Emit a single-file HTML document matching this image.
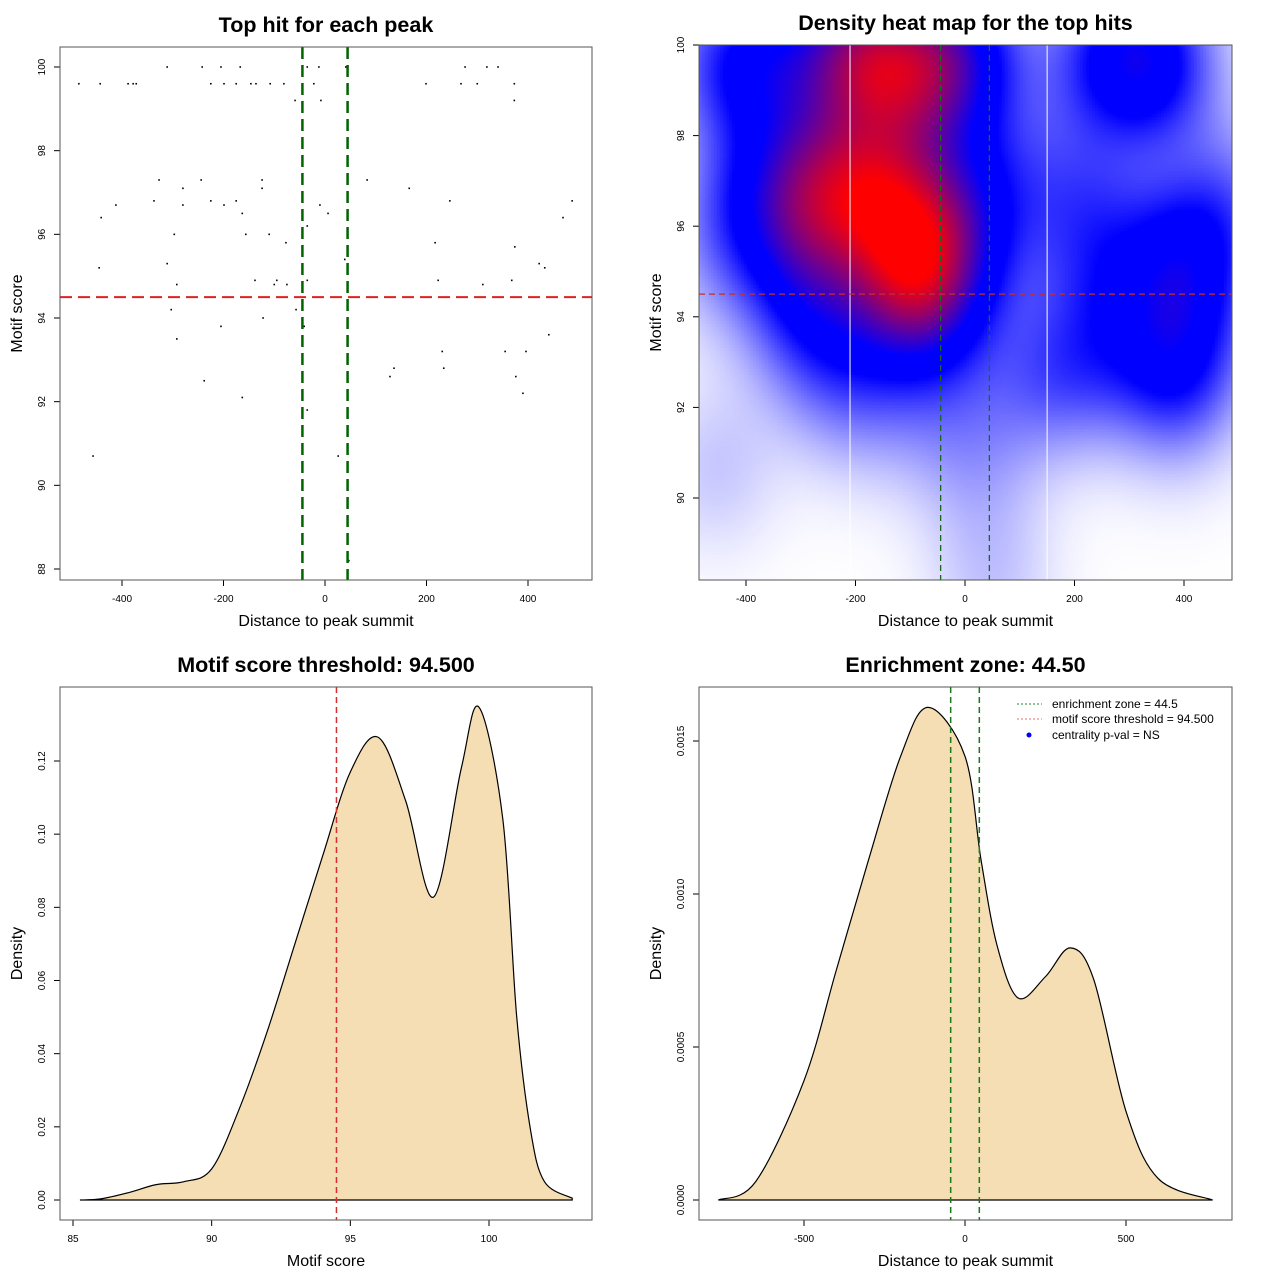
<!DOCTYPE html>
<html><head><meta charset="utf-8"><style>
body{margin:0;background:#fff;width:1280px;height:1280px;overflow:hidden;font-family:"Liberation Sans",sans-serif}
#wrap{position:relative;width:1280px;height:1280px}
svg{position:absolute;left:0;top:0}
canvas{position:absolute;left:699px;top:45px}
</style></head><body>
<div id="wrap">
<canvas id="heat" width="533" height="535"></canvas>
<svg id="svg" width="1280" height="1280" xmlns="http://www.w3.org/2000/svg"></svg>
</div>
<script>
// ---- data ----
const scatterX=[-485,-443,-388,-378,-372,-225,-199,-175,-146,-136,-108,-81,-22,199,268,300,373,
-311,-242,-205,-167,-35,-12,41,276,319,341,-59,-8,373,
-327,-244,-124,83,-280,-124,166,-337,-225,-175,246,487,-412,-280,-199,-10,-163,6,-441,469,
-297,-156,-110,-77,217,374,-35,39,-311,422,-445,433,-138,-95,-35,223,368,-292,-100,-75,311,
-303,-57,-122,-205,-41,-292,441,231,355,396,234,136,128,376,-238,390,-163,-35,-457,26,47];
const scatterY=[99.6,99.6,99.6,99.6,99.6,99.6,99.6,99.6,99.6,99.6,99.6,99.6,99.6,99.6,99.6,99.6,99.6,
100,100,100,100,100,100,100,100,100,100,99.2,99.2,99.2,
97.3,97.3,97.3,97.3,97.1,97.1,97.1,96.8,96.8,96.8,96.8,96.8,96.7,96.7,96.7,96.7,96.5,96.5,96.4,96.4,
96,96,96,95.8,95.8,95.7,96.2,95.4,95.3,95.3,95.2,95.2,94.9,94.9,94.9,94.9,94.9,94.8,94.8,94.8,94.8,
94.2,94.2,94,93.8,93.8,93.5,93.6,93.2,93.2,93.2,92.8,92.8,92.6,92.6,92.5,92.2,92.1,91.8,90.7,90.7,88.2];
const scoreX=[85.25,86,87,88,89,90,91,92,93,94,95,96,97,98,99,99.64,100.5,101,101.5,102,103];
const scoreD=[0,0.0003,0.002,0.0042,0.005,0.0085,0.025,0.046,0.07,0.094,0.117,0.1265,0.109,0.0828,0.118,0.1347,0.104,0.05,0.019,0.005,0.0005];
const distX=[-766,-650,-500,-400,-300,-200,-115,0,50,100,165,250,327,400,500,600,769];
const distD=[0,0.00006,0.00039,0.00075,0.00111,0.00145,0.00161,0.00145,0.00111,0.00083,0.00066,0.00073,0.000824,0.00072,0.00029,0.00007,0];
const scoreThreshold=94.5, zone=44.5;
const ticks1X=[-400,-200,0,200,400], ticks1Y=[88,90,92,94,96,98,100];
const ticks2Y=[90,92,94,96,98,100];
const ticks3X=[85,90,95,100], ticks3Y=[0,0.02,0.04,0.06,0.08,0.10,0.12], ticks3YL=["0.00","0.02","0.04","0.06","0.08","0.10","0.12"];
const ticks4X=[-500,0,500], ticks4Y=[0,0.0005,0.001,0.0015], ticks4YL=["0.0000","0.0005","0.0010","0.0015"];

const NS="http://www.w3.org/2000/svg", svg=document.getElementById('svg');
function el(tag,attrs,parent,name,text){const e=document.createElementNS(NS,tag);for(const k in attrs)e.setAttribute(k,attrs[k]);


if(text!==undefined)e.textContent=text;(parent||svg).appendChild(e);return e;}
function lin(d0,d1,p0,p1){return v=>p0+(v-d0)/(d1-d0)*(p1-p0);}

function panel(o){
  const g=el('g',{},svg,o.name);
  el('text',{x:(o.L+o.R)/2,y:o.T-15,'text-anchor':'middle','font-size':21.5,'font-weight':'bold'},g,'chart-title',o.title);
  el('text',{x:(o.L+o.R)/2,y:o.B+46,'text-anchor':'middle','font-size':16},g,'x-axis-title',o.xlab);
  el('text',{x:0,y:0,transform:`translate(${o.L-38},${(o.T+o.B)/2}) rotate(-90)`,'text-anchor':'middle','font-size':16},g,'y-axis-title','');
  g.lastChild.textContent=o.ylab;
  o.xt.forEach((t,i)=>{const x=o.sx(t);el('line',{x1:x,x2:x,y1:o.B,y2:o.B+6,stroke:'#000'},g,'x-tick');
    el('text',{x:x,y:o.B+22,'text-anchor':'middle','font-size':10},g,'x-tick-label',o.xtl?o.xtl[i]:t);});
  o.yt.forEach((t,i)=>{const y=o.sy(t);el('line',{x1:o.L-6,x2:o.L,y1:y,y2:y,stroke:'#000'},g,'y-tick');
    el('text',{x:0,y:0,transform:`translate(${o.L-15},${y}) rotate(-90)`,'text-anchor':'middle','font-size':10},g,'y-tick-label',o.ytl?o.ytl[i]:t);});
  return g;
}
function box(g,L,T,R,B){el('rect',{x:L,y:T,width:R-L,height:B-T,fill:'none',stroke:'#555'},g,'plot-border');}
function curvePath(xs,ys,sx,sy){
  const p=xs.map((x,i)=>[sx(x),sy(ys[i])]);let d=`M${p[0][0]},${p[0][1]}`;
  for(let i=0;i<p.length-1;i++){const p0=p[Math.max(0,i-1)],p1=p[i],p2=p[i+1],p3=p[Math.min(p.length-1,i+2)];
    const c1=[p1[0]+(p2[0]-p0[0])/6,p1[1]+(p2[1]-p0[1])/6],c2=[p2[0]-(p3[0]-p1[0])/6,p2[1]-(p3[1]-p1[1])/6];
    d+=`C${c1[0]},${c1[1]} ${c2[0]},${c2[1]} ${p2[0]},${p2[1]}`;}
  return [d,p];
}

// Panel 1
{const L=60,T=47,R=592,B=580,sx=lin(0,400,325,528),sy=lin(88,100,569,67);
 const g=panel({name:'scatter-panel',L,T,R,B,sx,sy,xt:ticks1X,yt:ticks1Y,title:'Top hit for each peak',xlab:'Distance to peak summit',ylab:'Motif score'});
 scatterX.forEach((x,i)=>el('rect',{x:sx(x)-0.8,y:sy(scatterY[i])-0.8,width:1.6,height:1.6,fill:'#000'},g,'scatter-point'));
 el('line',{x1:L,x2:R,y1:sy(scoreThreshold),y2:sy(scoreThreshold),stroke:'#dd2222','stroke-width':2,'stroke-dasharray':'12,6'},g,'threshold-line');
 [-zone,zone].forEach(z=>el('line',{x1:sx(z),x2:sx(z),y1:T,y2:B,stroke:'#006400','stroke-width':2.5,'stroke-dasharray':'12,6'},g,'zone-line'));
 box(g,L,T,R,B);}

// Panel 2 heatmap
{const L=699,T=45,R=1232,B=580,sx=lin(0,400,965,1184),sy=lin(90,100,498,45);
 const cv=document.getElementById('heat'),ctx=cv.getContext('2d'),W=cv.width,H=cv.height,img=ctx.createImageData(W,H);
 const bx=80,by=1.3,step=3,grid=[];let mx=0;
 for(let py=0;py<H;py+=step){const row=[];for(let px=0;px<W;px+=step){
   const dx=(px+L-965)/0.5475, dy=100-(py)/45.3;let s=0;
   for(let i=0;i<scatterX.length;i++){const a=(dx-scatterX[i])/bx,b=(dy-scatterY[i])/by;s+=Math.exp(-0.5*(a*a+b*b));}
   row.push(s);if(s>mx)mx=s;}grid.push(row);}
 for(let py=0;py<H;py++)for(let px=0;px<W;px++){
   const t=grid[Math.floor(py/step)][Math.floor(px/step)]/mx;let r,gg,b;
   if(t<0.38){const u=t/0.38;r=255*(1-u);gg=255*(1-u);b=255;}else{const u=Math.min(1,Math.max(0,(t-0.5)/0.42));r=255*u;gg=0;b=255*(1-u);}
   const k=(py*W+px)*4;img.data[k]=r;img.data[k+1]=gg;img.data[k+2]=b;img.data[k+3]=255;}
 ctx.putImageData(img,0,0);
 const g=panel({name:'heatmap-panel',L,T,R,B,sx,sy,xt:ticks1X,yt:ticks2Y,title:'Density heat map for the top hits',xlab:'Distance to peak summit',ylab:'Motif score'});
 [-210,150].forEach(v=>el('line',{x1:sx(v),x2:sx(v),y1:T,y2:B,stroke:'#fff','stroke-width':1},g,'tile-seam'));
 el('line',{x1:L,x2:R,y1:sy(scoreThreshold),y2:sy(scoreThreshold),stroke:'#c03030','stroke-width':1.3,'stroke-dasharray':'6,4'},g,'threshold-line');
 [-zone,zone].forEach(z=>el('line',{x1:sx(z),x2:sx(z),y1:T,y2:B,stroke:'#1a6a1a','stroke-width':1.3,'stroke-dasharray':'6,4'},g,'zone-line'));
 box(g,L,T,R,B);}

// Panel 3
{const L=60,T=687,R=592,B=1220,sx=lin(85,100,73,489),sy=lin(0,0.12,1200,761);
 const g=panel({name:'score-density-panel',L,T,R,B,sx,sy,xt:ticks3X,yt:ticks3Y,ytl:ticks3YL,title:'Motif score threshold: 94.500',xlab:'Motif score',ylab:'Density'});
 const [d,p]=curvePath(scoreX,scoreD,sx,sy);
 el('path',{d:d+`L${p[p.length-1][0]},${sy(0)}L${p[0][0]},${sy(0)}Z`,fill:'#f5deb3',stroke:'#000','stroke-width':1.2},g,'density-area');
 el('line',{x1:sx(scoreThreshold),x2:sx(scoreThreshold),y1:T,y2:B,stroke:'#d03030','stroke-width':1.5,'stroke-dasharray':'6,4'},g,'threshold-line');
 box(g,L,T,R,B);}

// Panel 4
{const L=699,T=687,R=1232,B=1220,sx=lin(0,500,965,1126),sy=lin(0,0.0015,1200,741);
 const g=panel({name:'distance-density-panel',L,T,R,B,sx,sy,xt:ticks4X,yt:ticks4Y,ytl:ticks4YL,title:'Enrichment zone: 44.50',xlab:'Distance to peak summit',ylab:'Density'});
 const [d,p]=curvePath(distX,distD,sx,sy);
 el('path',{d:d+`L${p[p.length-1][0]},${sy(0)}L${p[0][0]},${sy(0)}Z`,fill:'#f5deb3',stroke:'#000','stroke-width':1.2},g,'density-area');
 [-zone,zone].forEach(z=>el('line',{x1:sx(z),x2:sx(z),y1:T,y2:B,stroke:'#1a7a1a','stroke-width':1.5,'stroke-dasharray':'6,4'},g,'zone-line'));
 const lg=el('g',{},g,'legend');
 el('line',{x1:1017,x2:1042,y1:704,y2:704,stroke:'#2a8a2a','stroke-dasharray':'2,2'},lg,'legend-swatch-zone');
 el('text',{x:1052,y:708,'font-size':12},lg,'legend-label-zone','enrichment zone = 44.5');
 el('line',{x1:1017,x2:1042,y1:719,y2:719,stroke:'#e07070','stroke-dasharray':'2,2'},lg,'legend-swatch-threshold');
 el('text',{x:1052,y:723,'font-size':12},lg,'legend-label-threshold','motif score threshold = 94.500');
 el('circle',{cx:1029,cy:735,r:2.5,fill:'#0000ff'},lg,'legend-swatch-pval');
 el('text',{x:1052,y:739,'font-size':12},lg,'legend-label-pval','centrality p-val = NS');
 box(g,L,T,R,B);}
</script>
</body></html>
